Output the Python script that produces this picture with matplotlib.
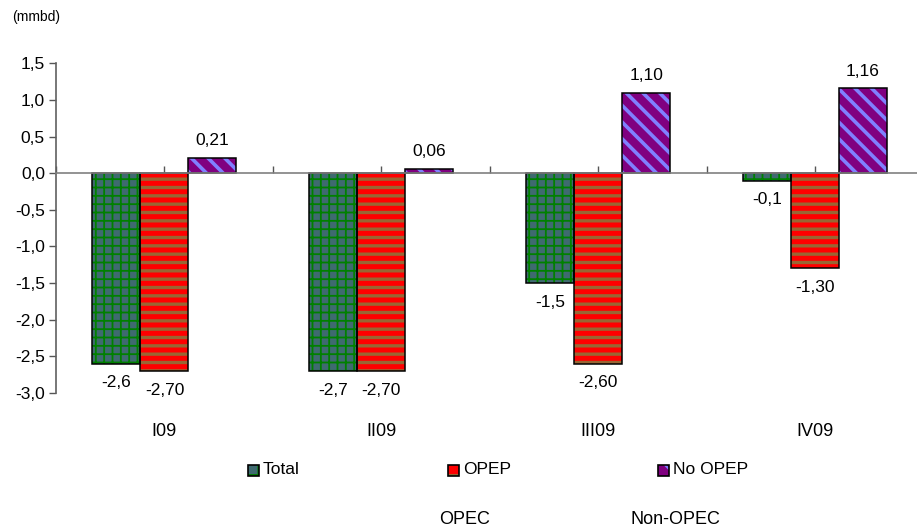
import matplotlib
matplotlib.use("Agg")
import matplotlib.pyplot as plt
from matplotlib.patches import Rectangle
from matplotlib.transforms import blended_transform_factory
import numpy as np

plt.rcParams['font.family'] = ['Liberation Sans', 'DejaVu Sans']

categories = ["I09", "II09", "III09", "IV09"]
series_names = ["Total", "OPEP", "No OPEP"]
total = [-2.6, -2.7, -1.5, -0.1]
opep = [-2.70, -2.70, -2.60, -1.30]
no_opep = [0.21, 0.06, 1.10, 1.16]
decimals = [1, 2, 2]
yticks = [1.5, 1.0, 0.5, 0.0, -0.5, -1.0, -1.5, -2.0, -2.5, -3.0]
unit_label = "(mmbd)"
extra_labels = ["OPEC", "Non-OPEC"]

styles = [
    dict(face="#3f6a70", hatch="++", hcol="#008000", hlw=1.3),
    dict(face="#ff0000", hatch="--", hcol="#996633", hlw=2.4),
    dict(face="#800080", hatch="\\\\", hcol="#8080ff", hlw=2.6),
]

FS = 12.5
W, H = 917, 531
fig = plt.figure(figsize=(W / 100, H / 100), dpi=100)
ax = fig.add_axes([56 / W, 138 / H, (923.5 - 56) / W, (467.7 - 138) / H])


def hatched_bar(axis, x, h, width, st):
    with plt.rc_context({'hatch.linewidth': st["hlw"], 'hatch.color': st["hcol"]}):
        b = axis.bar(x, h, width, color=st["face"], edgecolor=st["hcol"],
                     linewidth=0, hatch=st["hatch"], zorder=2)
        for p in b:
            if hasattr(p, "set_hatch_linewidth"):
                p.set_hatch_linewidth(st["hlw"])
    axis.bar(x, h, width, fill=False, edgecolor="black", linewidth=1.1, zorder=3)


x = np.arange(len(categories))
bw = 48 / 217
data = [total, opep, no_opep]
for i, (vals, st) in enumerate(zip(data, styles)):
    xs = x + (i - 1) * bw
    hatched_bar(ax, xs, vals, bw, st)
    for xi, v in zip(xs, vals):
        txt = f"{v:.{decimals[i]}f}".replace(".", ",")
        off = -13.7 if v < 0 else 12.2
        ax.annotate(txt, (xi, v), xytext=(0, off), textcoords="offset points",
                    ha="center", va="center", fontsize=FS, color="black")

ax.set_xlim(-0.5, 3.5)
ax.set_ylim(-3.0, 1.5)
ax.set_yticks(yticks)
ax.set_yticklabels([f"{t:.1f}".replace(".", ",") for t in yticks], fontsize=FS)
ax.tick_params(axis="y", direction="out", length=5, width=1, color="#555555", pad=3)
ax.set_xticks(np.arange(-0.5, 3.51, 0.5))
ax.set_xticklabels([])
ax.tick_params(axis="x", direction="in", length=5, width=1, color="#555555")

for s in ["top", "right"]:
    ax.spines[s].set_visible(False)
ax.spines["bottom"].set_position(("data", 0))
ax.spines["bottom"].set_color("#808080")
ax.spines["bottom"].set_linewidth(1.2)
ax.spines["left"].set_color("#606060")
ax.spines["left"].set_linewidth(1.2)
ax.spines["bottom"].set_zorder(4)

tr = blended_transform_factory(ax.transData, fig.transFigure)
for xi, c in zip(x, categories):
    ax.text(xi, (H - 432) / H, c, transform=tr, ha="center", va="center", fontsize=13)

fig.text(12 / W, (H - 17) / H, unit_label, ha="left", va="center", fontsize=10)

# legend
leg_x = [248, 448, 658]
for lx, name, st in zip(leg_x, series_names, styles):
    with plt.rc_context({'hatch.linewidth': min(st["hlw"], 1.5), 'hatch.color': st["hcol"]}):
        r = Rectangle((lx / W, (H - 476) / H), 11 / W, 11 / H, transform=fig.transFigure,
                      facecolor=st["face"], edgecolor=st["hcol"], hatch=st["hatch"][0],
                      linewidth=0)
        fig.add_artist(r)
    r2 = Rectangle((lx / W, (H - 476) / H), 11 / W, 11 / H, transform=fig.transFigure,
                   fill=False, edgecolor="black", linewidth=1.2)
    fig.add_artist(r2)
    fig.text((lx + 15) / W, (H - 470) / H, name, ha="left", va="center", fontsize=12.5)

fig.text(465 / W, (H - 520) / H, extra_labels[0], ha="center", va="center", fontsize=13)
fig.text(675 / W, (H - 520) / H, extra_labels[1], ha="center", va="center", fontsize=13)

fig.savefig("out.png", dpi=100)
